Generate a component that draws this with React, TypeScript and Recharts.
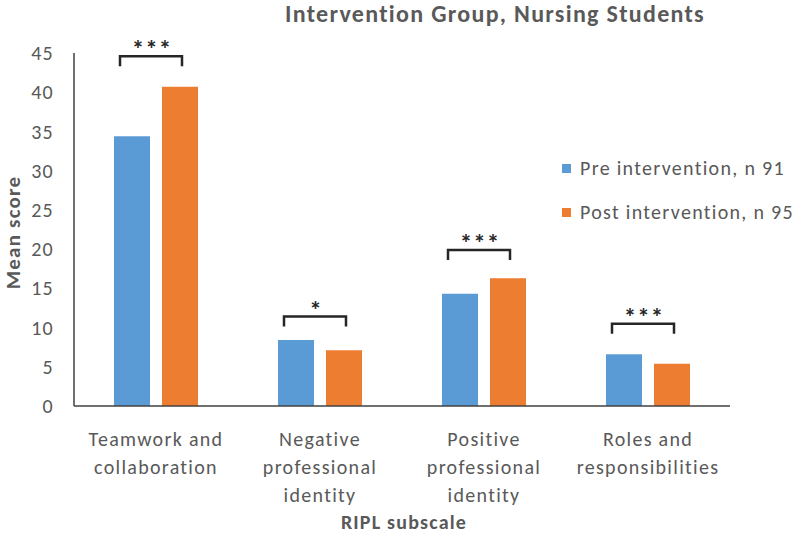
import { Bar, BarChart, Legend, ReferenceDot, XAxis, YAxis } from "recharts";

const CATEGORIES = [
  "Teamwork and collaboration",
  "Negative professional identity",
  "Positive professional identity",
  "Roles and responsibilities",
];
const TICK_LINES = [
  ["Teamwork and", "collaboration"],
  ["Negative", "professional", "identity"],
  ["Positive", "professional", "identity"],
  ["Roles and", "responsibilities"],
];
const PRE = [34.4, 8.4, 14.3, 6.6];
const POST = [40.7, 7.1, 16.3, 5.4];
const BRACKET_LEVEL = [44.6, 11.4, 19.9, 10.5];
const SIGNIFICANCE = ["***", "*", "***", "***"];
const Y_TICKS = [0, 5, 10, 15, 20, 25, 30, 35, 40, 45];

const SERIES = [
  { key: "pre", name: "Pre intervention, n 91", color: "#5B9BD5" },
  { key: "post", name: "Post intervention, n 95", color: "#ED7D31" },
];

const FONT = "Carlito, Calibri, Lato, sans-serif";
const GREY = "#595959";

const data = CATEGORIES.map((c, i) => ({ category: c, pre: PRE[i], post: POST[i] }));

function XTick(props: any) {
  const { x, y, payload } = props;
  const lines = TICK_LINES[CATEGORIES.indexOf(payload.value)] || [payload.value];
  return (
    <text
      x={x}
      y={y + 38}
      textAnchor="middle"
      fill={GREY}
      fontSize={20}
      letterSpacing={1.3}
      fontFamily={FONT}
    >
      {lines.map((l, i) => (
        <tspan key={i} x={x} dy={i === 0 ? 0 : 28}>
          {l}
        </tspan>
      ))}
    </text>
  );
}

function bracket(label: string) {
  return (props: any) => {
    const { cx, cy } = props;
    const x = cx - 5;
    return (
      <g>
        <path
          d={`M${x - 31},${cy + 10} L${x - 31},${cy} L${x + 31},${cy} L${x + 31},${cy + 10}`}
          fill="none"
          stroke="#262626"
          strokeWidth={2.5}
        />
        <text
          x={x + 1}
          y={cy + 1}
          textAnchor="middle"
          fill="#262626"
          fontSize={25}
          letterSpacing={1}
          fontWeight="bold"
          fontFamily={FONT}
        >
          {label}
        </text>
      </g>
    );
  };
}

function LegendBox() {
  return (
    <div style={{ fontFamily: FONT }}>
      {SERIES.map((s) => (
        <div key={s.key} style={{ display: "flex", alignItems: "center", height: 44 }}>
          <span style={{ width: 9, height: 9, background: s.color, marginRight: 9 }} />
          <span style={{ fontSize: 20, letterSpacing: 1.3, color: GREY }}>{s.name}</span>
        </div>
      ))}
    </div>
  );
}

export default function App() {
  return (
    <div style={{ position: "absolute", left: 0, top: 0, width: 798, height: 535, background: "#fff" }}>
      <div
        style={{
          position: "absolute",
          top: 1,
          left: 495,
          transform: "translateX(-50%)",
          whiteSpace: "nowrap",
          fontFamily: FONT,
          fontWeight: "bold",
          fontSize: 24,
          letterSpacing: 1.3,
          lineHeight: "26px",
          color: GREY,
        }}
      >
        Intervention Group, Nursing Students
      </div>
      <BarChart
        width={798}
        height={535}
        data={data}
        margin={{ top: 53, right: 68, bottom: 0, left: 0 }}
        barCategoryGap={40}
        barGap={12}
      >
        <XAxis
          dataKey="category"
          height={129}
          tick={<XTick />}
          tickLine={false}
          tickSize={0}
          interval={0}
          axisLine={{ stroke: "#404040", strokeWidth: 1.5 }}
          label={{
            value: "RIPL subscale",
            content: (p: any) => (
              <text
                x={p.viewBox.x + p.viewBox.width / 2 + 2}
                y={p.viewBox.y + 123}
                textAnchor="middle"
                fill={GREY}
                fontSize={20}
                letterSpacing={1.2}
                fontWeight="bold"
                fontFamily={FONT}
              >
                RIPL subscale
              </text>
            ),
          }}
        />
        <YAxis
          width={74}
          domain={[0, 45]}
          ticks={Y_TICKS}
          interval={0}
          tickLine={false}
          tickSize={0}
          tickMargin={20}
          tick={{ fill: GREY, fontSize: 20, letterSpacing: 1.3, fontFamily: FONT }}
          axisLine={{ stroke: "#404040", strokeWidth: 1.5 }}
          label={{
            value: "Mean score",
            content: (p: any) => {
              const lx = p.viewBox.x + 20;
              const ly = p.viewBox.y + p.viewBox.height / 2 + 3;
              return (
                <text
                  x={lx}
                  y={ly}
                  transform={`rotate(-90 ${lx} ${ly})`}
                  textAnchor="middle"
                  fill={GREY}
                  fontSize={21}
                  letterSpacing={1.2}
                  fontWeight="bold"
                  fontFamily={FONT}
                >
                  Mean score
                </text>
              );
            },
          }}
        />
        <Legend
          layout="vertical"
          align="center"
          verticalAlign="middle"
          content={<LegendBox />}
          wrapperStyle={{ left: 562, top: 146, width: 236 }}
        />
        {SERIES.map((s) => (
          <Bar key={s.key} dataKey={s.key} name={s.name} fill={s.color} barSize={36} isAnimationActive={false} />
        ))}
        {CATEGORIES.map((c, i) => (
          <ReferenceDot key={c} x={c} y={BRACKET_LEVEL[i]} shape={bracket(SIGNIFICANCE[i])} />
        ))}
      </BarChart>
    </div>
  );
}
